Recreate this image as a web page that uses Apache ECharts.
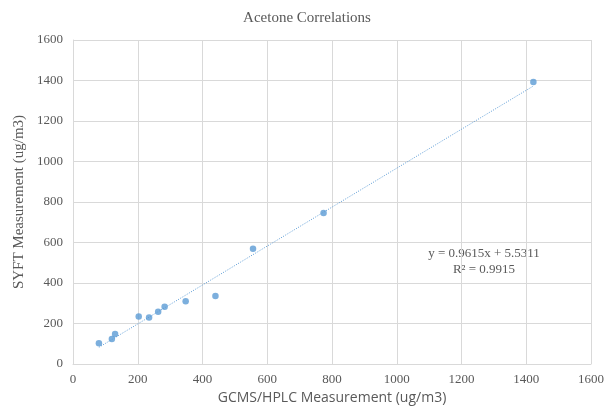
<!DOCTYPE html>
<html>
<head>
<meta charset="utf-8">
<script src="https://cdn.jsdelivr.net/npm/echarts@6/dist/echarts.min.js"></script>
<style>
  html, body { margin: 0; padding: 0; background: #fff; }
  #chart { width: 614px; height: 412px; }
</style>
</head>
<body>
<div id="chart"></div>
<script>
// measured points (GCMS/HPLC vs SYFT)
const gcms = [80, 120, 130, 203, 235, 263, 283, 348, 440, 556, 774, 1422];
const syft = [102, 123, 148, 235, 230, 258, 283, 310, 336, 569, 746, 1393];
// trendline as printed on the chart
const slope = 0.9615;
const intercept = 5.5311;
const eqText = 'y = 0.9615x + 5.5311';
const r2Text = 'R² = 0.9915';
const axisTicks = [0, 200, 400, 600, 800, 1000, 1200, 1400, 1600];

const points = gcms.map((x, i) => [x, syft[i]]);
const xMin = Math.min(...gcms), xMax = Math.max(...gcms);
const trend = [[xMin, slope * xMin + intercept], [xMax, slope * xMax + intercept]];

const serif = '"Liberation Serif", "DejaVu Serif", serif';
const gridColor = '#d9d9d9';
const textColor = '#595959';

const chart = echarts.init(document.getElementById('chart'));
chart.setOption({
  animation: false,
  title: {
    text: 'Acetone Correlations',
    left: 'center',
    top: 6,
    textStyle: { fontFamily: serif, fontSize: 15, fontWeight: 'normal', color: textColor }
  },
  grid: { left: 73, top: 40, right: 23, bottom: 48 },
  xAxis: {
    type: 'value',
    min: axisTicks[0],
    max: axisTicks[axisTicks.length - 1],
    interval: 200,
    name: 'GCMS/HPLC Measurement (ug/m3)',
    nameLocation: 'middle',
    nameGap: 24,
    nameTextStyle: { fontFamily: '"Open Sans", "Noto Sans", sans-serif', fontSize: 14, color: textColor },
    axisLine: { lineStyle: { color: gridColor } },
    axisTick: { show: false },
    axisLabel: { fontFamily: serif, fontSize: 13, color: textColor, margin: 9, formatter: v => String(v) },
    splitLine: { lineStyle: { color: gridColor } }
  },
  yAxis: {
    type: 'value',
    min: axisTicks[0],
    max: axisTicks[axisTicks.length - 1],
    interval: 200,
    name: 'SYFT Measurement (ug/m3)',
    nameLocation: 'middle',
    nameGap: 37,
    nameTextStyle: { fontFamily: serif, fontSize: 15, color: textColor },
    axisLine: { show: true, lineStyle: { color: gridColor } },
    axisTick: { show: false },
    axisLabel: { fontFamily: serif, fontSize: 13, color: textColor, margin: 10, formatter: v => String(v) },
    splitLine: { lineStyle: { color: gridColor } }
  },
  graphic: [
    {
      type: 'text',
      x: 484,
      y: 254,
      style: { text: eqText, font: '13px ' + serif, fill: textColor, textAlign: 'center', textVerticalAlign: 'middle' }
    },
    {
      type: 'text',
      x: 484,
      y: 270,
      style: { text: r2Text, font: '13px ' + serif, fill: textColor, textAlign: 'center', textVerticalAlign: 'middle' }
    }
  ],
  series: [
    {
      type: 'line',
      data: trend,
      symbol: 'none',
      lineStyle: { color: '#5B9BD5', width: 1, type: [1, 1.5] },
      silent: true,
      z: 1
    },
    {
      type: 'scatter',
      data: points,
      symbolSize: 6.5,
      itemStyle: { color: '#5B9BD5' },
      z: 2
    }
  ]
});
</script>
</body>
</html>
